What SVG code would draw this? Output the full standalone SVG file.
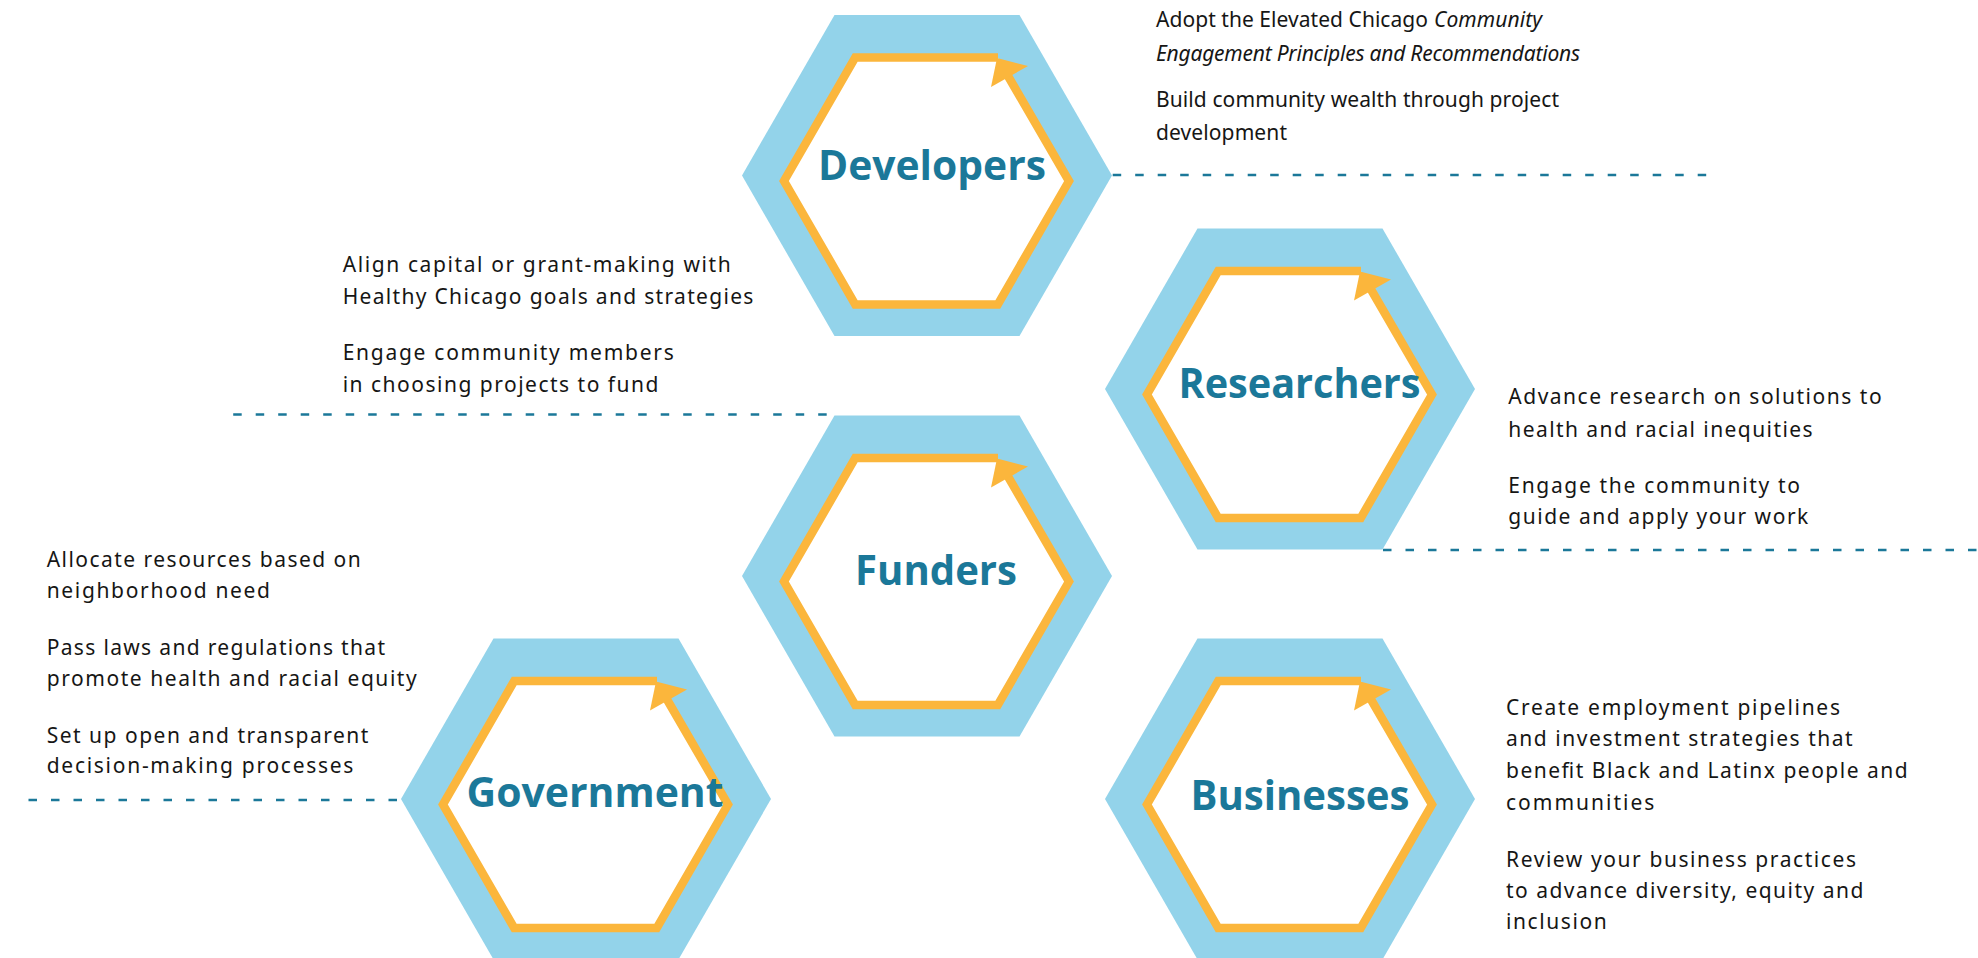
<svg xmlns="http://www.w3.org/2000/svg" width="1978" height="958" viewBox="0 0 1978 958">
<style>
.lbl{font-family:"Open Sans","Noto Sans","Liberation Sans",sans-serif;font-weight:700;font-size:42px;fill:#1b7899;text-anchor:middle}
.t{font-family:"Noto Sans","Open Sans","Liberation Sans",sans-serif;font-size:21px;fill:#161615}
.it{font-style:italic}
.dash{stroke:#1b7899;stroke-width:2.7;stroke-dasharray:8.5 14;fill:none}
</style>
<defs>
<g id="hex">
<polygon points="-185,0 -92.5,-160.5 92.5,-160.5 185,0 92.5,160.5 -92.5,160.5" fill="#93d3ea"/>
<polygon points="-143,5.5 -71.75,-118 70.75,-118 142,5.5 70.75,129 -71.75,129" fill="#ffffff"/>
<polyline points="71,-118 -71.75,-118 -143,5.5 -71.75,129 70.75,129 142,5.5 81,-99.5" fill="none" stroke="#fbb63c" stroke-width="8.5" stroke-linejoin="miter"/>
<polygon points="70,-117.5 101,-109.5 64,-88.5" fill="#fbb63c"/>
</g>
</defs>
<rect width="1978" height="958" fill="#ffffff"/>
<g id="connectors">
<line class="dash" x1="1112.7" y1="175" x2="1709" y2="175"/>
<line class="dash" x1="826.7" y1="414.5" x2="233" y2="414.5"/>
<line class="dash" x1="1383" y1="550" x2="1978" y2="550"/>
<line class="dash" x1="397" y1="800" x2="27" y2="800"/>
</g>
<g id="developers">
<use href="#hex" transform="translate(927,175.5)"/>
<text class="lbl" x="932" y="180" textLength="228" lengthAdjust="spacingAndGlyphs">Developers</text>
</g>
<g id="researchers">
<use href="#hex" transform="translate(1290,389)"/>
<text class="lbl" x="1299.5" y="398.3" textLength="242" lengthAdjust="spacingAndGlyphs">Researchers</text>
</g>
<g id="funders">
<use href="#hex" transform="translate(927,576)"/>
<text class="lbl" x="936" y="585" textLength="162" lengthAdjust="spacingAndGlyphs">Funders</text>
</g>
<g id="government">
<use href="#hex" transform="translate(586,799)"/>
<text class="lbl" x="595" y="806.7" textLength="257" lengthAdjust="spacingAndGlyphs">Government</text>
</g>
<g id="businesses">
<use href="#hex" transform="translate(1290,799)"/>
<text class="lbl" x="1300" y="810" textLength="219" lengthAdjust="spacingAndGlyphs">Businesses</text>
</g>
<g id="developers-text">
<text class="t" x="1156" y="27.3" textLength="272" lengthAdjust="spacing">Adopt the Elevated Chicago</text>
<text class="t it" x="1434" y="27.3" textLength="108" lengthAdjust="spacing">Community</text>
<text class="t it" x="1156" y="60.7" textLength="424" lengthAdjust="spacing">Engagement Principles and Recommendations</text>
<text class="t" x="1156" y="107.3" textLength="403" lengthAdjust="spacing">Build community wealth through project</text>
<text class="t" x="1156" y="140" textLength="131" lengthAdjust="spacing">development</text>
</g>
<g id="funders-text">
<text class="t" x="342.7" y="271.7" textLength="388" lengthAdjust="spacing">Align capital or grant-making with</text>
<text class="t" x="342.7" y="304" textLength="410.7" lengthAdjust="spacing">Healthy Chicago goals and strategies</text>
<text class="t" x="342.7" y="360" textLength="331" lengthAdjust="spacing">Engage community members</text>
<text class="t" x="342.7" y="391.7" textLength="315.7" lengthAdjust="spacing">in choosing projects to fund</text>
</g>
<g id="government-text">
<text class="t" x="46.7" y="566.7" textLength="314" lengthAdjust="spacing">Allocate resources based on</text>
<text class="t" x="46.7" y="598.3" textLength="223.3" lengthAdjust="spacing">neighborhood need</text>
<text class="t" x="46.7" y="655" textLength="338.3" lengthAdjust="spacing">Pass laws and regulations that</text>
<text class="t" x="46.7" y="686" textLength="370" lengthAdjust="spacing">promote health and racial equity</text>
<text class="t" x="46.7" y="743.3" textLength="321.7" lengthAdjust="spacing">Set up open and transparent</text>
<text class="t" x="46.7" y="773.3" textLength="306.7" lengthAdjust="spacing">decision-making processes</text>
</g>
<g id="researchers-text">
<text class="t" x="1508.3" y="404.3" textLength="373.3" lengthAdjust="spacing">Advance research on solutions to</text>
<text class="t" x="1508.3" y="436.7" textLength="304.3" lengthAdjust="spacing">health and racial inequities</text>
<text class="t" x="1508.3" y="492.7" textLength="291.7" lengthAdjust="spacing">Engage the community to</text>
<text class="t" x="1508.3" y="524.3" textLength="300" lengthAdjust="spacing">guide and apply your work</text>
</g>
<g id="businesses-text">
<text class="t" x="1506" y="715" textLength="334" lengthAdjust="spacing">Create employment pipelines</text>
<text class="t" x="1506" y="746" textLength="346.7" lengthAdjust="spacing">and investment strategies that</text>
<text class="t" x="1506" y="778.3" textLength="401.7" lengthAdjust="spacing">benefit Black and Latinx people and</text>
<text class="t" x="1506" y="810" textLength="148.3" lengthAdjust="spacing">communities</text>
<text class="t" x="1506" y="866.7" textLength="350" lengthAdjust="spacing">Review your business practices</text>
<text class="t" x="1506" y="898.3" textLength="357.3" lengthAdjust="spacing">to advance diversity, equity and</text>
<text class="t" x="1506" y="929.3" textLength="100.7" lengthAdjust="spacing">inclusion</text>
</g>
</svg>
